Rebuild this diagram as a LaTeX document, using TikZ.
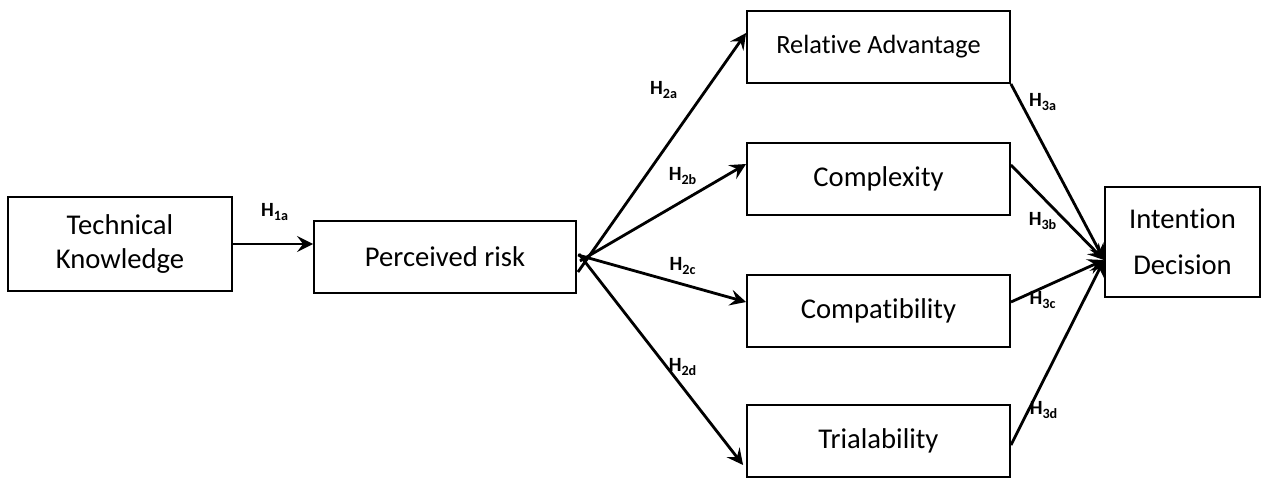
\documentclass[tikz,border=0pt]{standalone}
\usepackage{fontspec}
\setmainfont{Carlito}[Ligatures=NoCommon]
\usetikzlibrary{arrows.meta,calc,positioning}
\tikzset{
  >={Stealth[length=3.2mm,width=3.2mm,inset=1.2mm]},
  box/.style={draw,line width=1.1pt,minimum width=5.26cm,minimum height=1.44cm,align=center,inner sep=0pt,font=\fontsize{16.3}{19.6}\selectfont},
  arr/.style={->,line width=1.6pt},
  hyp/.style={inner sep=0pt,font=\fontsize{11.5}{13}\selectfont\bfseries},
}
\newcommand{\hyp}[1]{H\textsubscript{#1}}

\begin{document}
\begin{tikzpicture}[x=0.02cm,y=-0.02cm]
  \useasboundingbox (0,0) rectangle (1269,478);
  % boxes
  \node[box,minimum width=4.48cm,minimum height=1.88cm] (tk) at (120,244) {Technical\\Knowledge};
  \node[box,minimum width=5.24cm] (pr) at (445,257) {Perceived risk};
  \node[box,font=\fontsize{15}{18}\selectfont] (ra) at (878.5,47) {Relative Advantage};
  \node[box] (cx) at (878.5,179) {Complexity};
  \node[box] (cp) at (878.5,311) {Compatibility};
  \node[box] (tr) at (878.5,441) {Trialability};
  \node[box,minimum width=3.1cm,minimum height=2.2cm,font=\fontsize{16.3}{26}\selectfont] (id) at (1182.5,242) {Intention\\Decision};
  % hypotheses
  \draw[arr] (tk.east) -- (tk.east -| pr.west);
  \draw[arr] ($(pr.east)+(1,15)$) -- ($(ra.west)+(0,-14)$);
  \draw[arr] ($(pr.east)+(3,4)$) -- ($(cx.west)+(0,-15)$);
  \draw[arr] ($(pr.east)+(1,-2)$) -- ($(cp.west)+(0,-9)$);
  \draw[arr] ($(pr.east)+(2,-3)$) -- ($(tr.west)+(-3,24)$);
  \coordinate (tip) at ($(id.west)+(0,18)$);
  \draw[arr] (ra.south east) -- (tip);
  \draw[arr] ($(cx.east)+(0,-14)$) -- (tip);
  \draw[arr] ($(cp.east)+(0,-9)$) -- (tip);
  \draw[arr] ($(tr.east)+(0,4)$) -- (tip);
  % labels
  \node[hyp] (l1a) at (275,212) {\hyp{1a}};
  \node[hyp] (l2a) at (664,90) {\hyp{2a}};
  \node[hyp] (l2b) at (683,176) {\hyp{2b}};
  \node[hyp] (l2c) at (683,266) {\hyp{2c}};
  \node[hyp] (l2d) at (683,367) {\hyp{2d}};
  \node[hyp] (l3a) at (1043,102) {\hyp{3a}};
  \node[hyp] (l3b) at (1043,221) {\hyp{3b}};
  \node[hyp] (l3c) at (1043,300) {\hyp{3c}};
  \node[hyp] (l3d) at (1044,410) {\hyp{3d}};
\end{tikzpicture}
\end{document}
